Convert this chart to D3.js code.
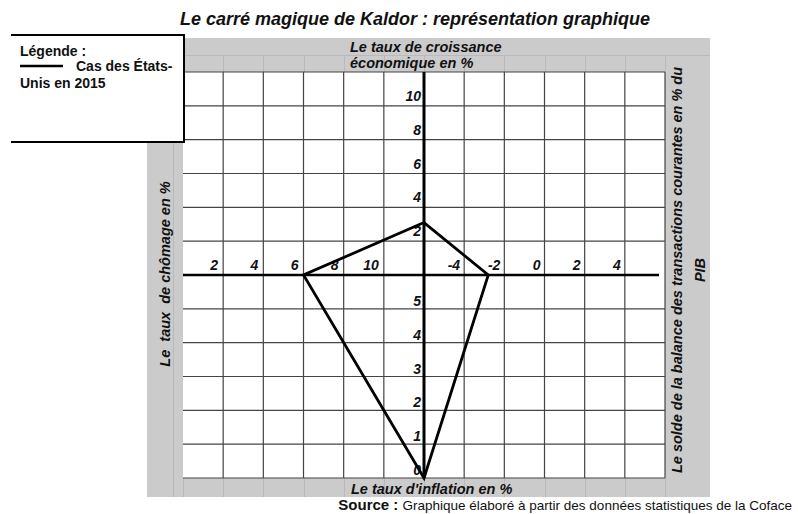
<!DOCTYPE html>
<html lang="fr">
<head>
<meta charset="utf-8">
<title>Le carré magique de Kaldor</title>
<script src="https://cdn.jsdelivr.net/npm/d3@7"></script>
<style>
  html, body { margin: 0; padding: 0; background: #fff; }
  svg { display: block; font-family: "Liberation Sans", Arial, sans-serif; }
</style>
</head>
<body>
<div id="chart"></div>
<script>
/* Données : cas des États-Unis en 2015 */
var indicateurs = ["croissance", "chomage", "inflation", "balance"];
var usa2015 = [3.1, 6, 0, -2.8];

/* Graduations des quatre demi-axes */
var ticksCroissance = [2, 4, 6, 8, 10];
var ticksChomage = [2, 4, 6, 8, 10];
var ticksInflation = [0, 1, 2, 3, 4, 5];
var ticksBalance = [-4, -2, 0, 2, 4];

/* Mise en page */
var width = 798, height = 514;
var grille = {left: 183, right: 665, top: 72, bottom: 478};
var cadre = {left: 147, right: 710, top: 38, bottom: 497};
var cx = (grille.left + grille.right) / 2,
    cy = (grille.top + grille.bottom) / 2;
var gris = "#cbcbcb";

/* Échelles : une par demi-axe */
var yCroissance = d3.scaleLinear().domain([0, 12]).range([cy, grille.top]);
var yInflation = d3.scaleLinear().domain([0, 6]).range([grille.bottom, cy]);
var xChomage = d3.scaleLinear().domain([0, 12]).range([grille.left, cx]);
var xBalance = d3.scaleLinear().domain([-6, 6]).range([cx, grille.right]);

var svg = d3.select("#chart").append("svg").attr("width", width).attr("height", height);

/* Bandeaux gris façon tableur */
var bandes = [
  [cadre.left, cadre.top, cadre.right - cadre.left, grille.top - cadre.top],
  [cadre.left, cadre.top, grille.left - cadre.left, cadre.bottom - cadre.top],
  [grille.right, cadre.top, cadre.right - grille.right, cadre.bottom - cadre.top],
  [cadre.left, grille.bottom, cadre.right - cadre.left, cadre.bottom - grille.bottom]
];
svg.append("g").selectAll("rect").data(bandes).enter().append("rect")
  .attr("x", function(d) {return d[0];}).attr("y", function(d) {return d[1];})
  .attr("width", function(d) {return d[2];}).attr("height", function(d) {return d[3];})
  .attr("fill", gris);

/* Traits de cellules discrets dans les bandeaux */
var colonnes = d3.range(0, 13, 2).map(xChomage).concat(d3.range(-4, 7, 2).map(xBalance));
var traits = svg.append("g").attr("stroke", "#b9b9b9").attr("stroke-width", 1);
traits.append("line").attr("x1", grille.left).attr("x2", cadre.right)
  .attr("y1", (cadre.top + grille.top) / 2 + 0.5).attr("y2", (cadre.top + grille.top) / 2 + 0.5);
traits.selectAll(".vh").data(colonnes).enter().append("line")
  .attr("x1", function(d) {return Math.round(d) + 0.5;}).attr("x2", function(d) {return Math.round(d) + 0.5;})
  .attr("y1", (cadre.top + grille.top) / 2).attr("y2", grille.top);
traits.selectAll(".vb").data(colonnes).enter().append("line")
  .attr("x1", function(d) {return Math.round(d) + 0.5;}).attr("x2", function(d) {return Math.round(d) + 0.5;})
  .attr("y1", grille.bottom).attr("y2", cadre.bottom);
traits.append("line").attr("x1", grille.left - 9.5).attr("x2", grille.left - 9.5)
  .attr("y1", cadre.top).attr("y2", cadre.bottom);

/* Zone de tracé blanche */
svg.append("rect").attr("x", grille.left).attr("y", grille.top)
  .attr("width", grille.right - grille.left).attr("height", grille.bottom - grille.top)
  .attr("fill", "#fff");

/* Quadrillage */
var verticales = d3.range(2, 13, 2).map(xChomage).concat(d3.range(-4, 7, 2).map(xBalance));
var horizontales = d3.range(2, 13, 2).map(yCroissance).concat(d3.range(0, 6).map(yInflation));
var quad = svg.append("g").attr("stroke", "#444").attr("stroke-width", 1.2);
quad.selectAll(".v").data(verticales).enter().append("line")
  .attr("x1", function(d) {return d;}).attr("x2", function(d) {return d;})
  .attr("y1", grille.top).attr("y2", grille.bottom);
quad.selectAll(".h").data(horizontales).enter().append("line")
  .attr("x1", grille.left).attr("x2", grille.right)
  .attr("y1", function(d) {return d;}).attr("y2", function(d) {return d;});

/* Axes principaux */
svg.append("line").attr("x1", grille.left).attr("x2", grille.right - 6)
  .attr("y1", cy).attr("y2", cy).attr("stroke", "#000").attr("stroke-width", 2.6);
svg.append("line").attr("x1", cx).attr("x2", cx)
  .attr("y1", grille.top).attr("y2", grille.bottom).attr("stroke", "#000").attr("stroke-width", 3);

/* Étiquettes des graduations */
var lab = svg.append("g").attr("font-size", "14px").attr("font-weight", "bold")
  .attr("font-style", "italic").attr("fill", "#111").attr("text-anchor", "end");
lab.selectAll(".tc").data(ticksCroissance).enter().append("text")
  .attr("x", cx - 3).attr("y", function(d) {return yCroissance(d) - 5;}).text(function(d) {return d;});
lab.selectAll(".ti").data(ticksInflation).enter().append("text")
  .attr("x", cx - 3).attr("y", function(d) {return yInflation(d) - 3;}).text(function(d) {return d;});
lab.selectAll(".tu").data(ticksChomage).enter().append("text")
  .attr("x", function(d) {return xChomage(d) - 5;}).attr("y", cy - 5).text(function(d) {return d;});
lab.selectAll(".tb").data(ticksBalance).enter().append("text")
  .attr("x", function(d) {return xBalance(d) - 4;}).attr("y", cy - 5).text(function(d) {return d;});

/* Le carré magique */
var sommets = [
  [cx, yCroissance(usa2015[0])],
  [xChomage(usa2015[1]), cy],
  [cx, yInflation(usa2015[2])],
  [xBalance(usa2015[3]), cy]
];
svg.append("path").attr("d", d3.line()(sommets) + "Z")
  .attr("fill", "none").attr("stroke", "#000").attr("stroke-width", 2.8)
  .attr("stroke-linejoin", "miter");

/* Titres des axes */
var tit = svg.append("g").attr("font-size", "14.5px").attr("font-weight", "bold")
  .attr("font-style", "italic").attr("fill", "#111");
tit.append("text").attr("x", 350).attr("y", 52).text("Le taux de croissance");
tit.append("text").attr("x", 350).attr("y", 68).text("économique en %");
tit.append("text").attr("x", 351).attr("y", 494).text("Le taux d'inflation en %");
tit.append("text").attr("transform", "translate(170," + (cy - 1) + ") rotate(-90)")
  .attr("text-anchor", "middle").attr("xml:space", "preserve").text("Le  taux  de chômage en %");
tit.append("text").attr("transform", "translate(682,270) rotate(-90)")
  .attr("text-anchor", "middle").text("Le solde de la balance des transactions courantes en % du");
tit.append("text").attr("transform", "translate(705,270) rotate(-90)")
  .attr("text-anchor", "middle").text("PIB");

/* Titre principal */
svg.append("text").attr("x", 415).attr("y", 25).attr("text-anchor", "middle")
  .attr("font-size", "18px").attr("font-weight", "bold").attr("font-style", "italic")
  .attr("fill", "#111").text("Le carré magique de Kaldor : représentation graphique");

/* Légende */
var leg = svg.append("g");
leg.append("rect").attr("x", 0).attr("y", 35).attr("width", 184).attr("height", 107).attr("fill", "#fff");
leg.append("path").attr("d", "M11,35H184V142H11").attr("fill", "none")
  .attr("stroke", "#000").attr("stroke-width", 2);
var legTxt = leg.append("g").attr("font-size", "14px").attr("font-weight", "bold").attr("fill", "#111");
legTxt.append("text").attr("x", 20).attr("y", 56).text("Légende :");
leg.append("line").attr("x1", 20).attr("x2", 63).attr("y1", 66).attr("y2", 66)
  .attr("stroke", "#000").attr("stroke-width", 2.5);
legTxt.append("text").attr("x", 76).attr("y", 71).text("Cas des États-");
legTxt.append("text").attr("x", 20).attr("y", 88).text("Unis en 2015");

/* Source */
var src = svg.append("text").attr("x", 792).attr("y", 510).attr("text-anchor", "end")
  .attr("font-size", "13.5px").attr("fill", "#111");
src.append("tspan").attr("font-weight", "bold").attr("font-size", "15px").text("Source : ");
src.append("tspan").text("Graphique élaboré à partir des données statistiques de la Coface");
</script>
</body>
</html>
